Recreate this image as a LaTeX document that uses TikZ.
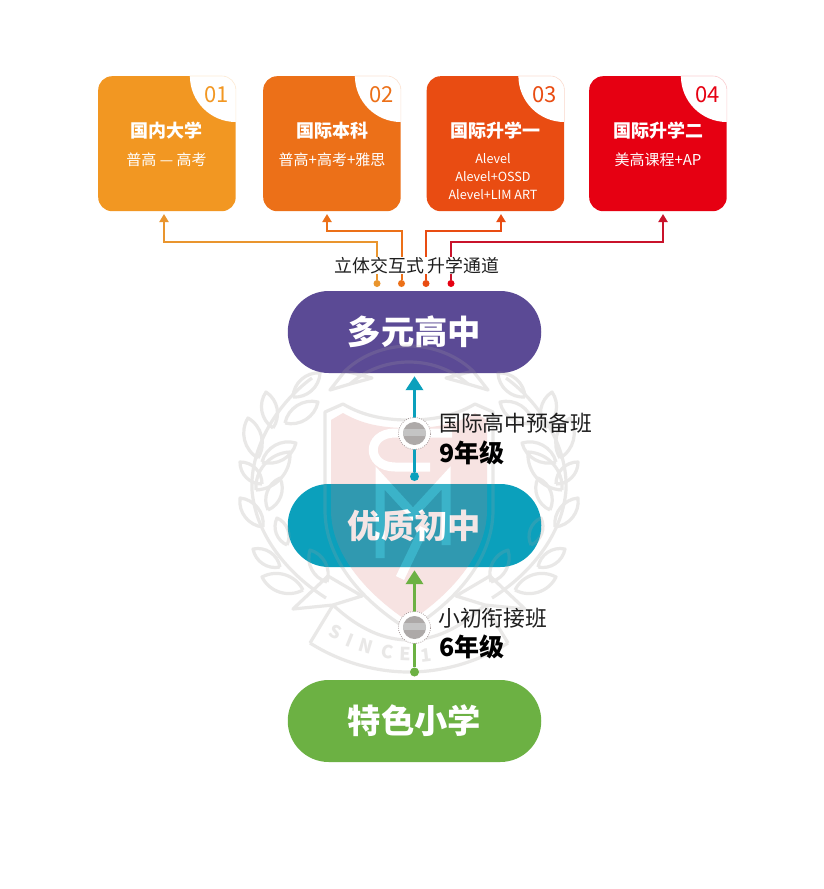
\documentclass[tikz,border=0pt]{standalone}
\usepackage{fontspec}
\setmainfont{Noto Sans CJK SC}
\usetikzlibrary{arrows.meta,calc}
\definecolor{cA}{HTML}{F29722}
\definecolor{cB}{HTML}{EC7018}
\definecolor{cC}{HTML}{E94C12}
\definecolor{cD}{HTML}{E60012}
\definecolor{lnA}{HTML}{E9952E}
\definecolor{lnD}{HTML}{C9132B}
\definecolor{pPurple}{HTML}{5B4A95}
\definecolor{pTeal}{HTML}{0BA0BC}
\definecolor{pGreen}{HTML}{6CB143}
\definecolor{wmGray}{HTML}{E9E8E7}
\definecolor{wmPink}{HTML}{F7E3E2}
\definecolor{ink}{HTML}{1E1E1E}
\definecolor{dotGray}{HTML}{ADA9A8}
\definecolor{bandGray}{HTML}{C4C4C4}
\definecolor{ringGray}{HTML}{9A8C8C}
\tikzset{
  pill/.style={rounded corners=41pt,minimum width=253.5pt,minimum height=82pt,inner sep=0pt,text=white,font=\fontsize{33.3}{34}\selectfont\bfseries},
  card/.style={rounded corners=14pt,minimum width=137.5pt,minimum height=135pt,inner sep=0pt},
  cardtitle/.style={text=white,inner sep=0pt,font=\fontsize{18}{18}\selectfont\bfseries},
  cardsub/.style={text=white,inner sep=0pt,align=center,font=\fontsize{15}{18}\selectfont},
  cardnum/.style={inner sep=0pt,font=\fontsize{22}{22}\selectfont},
  elbow/.style={line width=2pt,-{Triangle[length=8pt,width=9pt]},shorten >=3pt},
  portdot/.style={circle,minimum size=7pt,inner sep=0pt},
  riser/.style={line width=3.6pt,-{Triangle[length=14pt,width=17pt]},shorten >=3pt},
  startdot/.style={circle,minimum size=9pt,inner sep=0pt},
  ring/.style={circle,minimum size=32pt,inner sep=0pt,fill=white,draw=ringGray,dash pattern=on .8pt off 1.4pt,line width=.7pt},
  lbl/.style={anchor=west,text=ink,inner sep=0pt,font=\fontsize{21.8}{22}\selectfont},
  lblb/.style={anchor=west,text=black,inner sep=0pt,font=\fontsize{25}{25}\selectfont\bfseries},
  wl/.style={draw=wmGray,line width=3.2pt,line join=round},
  wmletter/.style={text=wmGray,inner sep=0pt,font=\fontsize{18}{18}\selectfont\bfseries},
}
% one pointed leaf between two points
\newcommand\wleaf[4]{\draw[wl] (#1,#2) to[bend left=46] (#3,#4) to[bend left=46] (#1,#2);}
\newcommand\halfwreath{%
  \draw[wl] (326,598) .. controls (282,570) and (255,530) .. (252,490)
            .. controls (250,450) and (275,405) .. (312,378);
  \wleaf{293}{397}{320}{373}
  \wleaf{273}{428}{266}{392}
  \wleaf{285}{423}{318}{402}
  \wleaf{258}{458}{248}{418}
  \wleaf{262}{462}{296}{443}
  \wleaf{262}{484}{240}{462}
  \wleaf{256}{490}{290}{452}
  \wleaf{263}{527}{240}{498}
  \wleaf{268}{510}{280}{478}
  \wleaf{287}{545}{277}{518}
  \wleaf{280}{567}{253}{549}
  \wleaf{303}{590}{262}{577}
  \wleaf{327}{582}{310}{550}
  % ribbon tails
  \draw[wl] (293,609) -- (328,576) -- (362,596) -- (333,605) -- cycle;
  \draw[wl] (333,605) -- (310,643);
  \draw[wl] (330,390) -- (345,371) -- (372,378) -- (350,384) -- cycle;
}
\newcommand\watermark{%
  % shield
  \fill[wmPink] (331,420) -- (343,413) .. controls (365,426) and (388,428) .. (409,428)
     .. controls (430,428) and (453,426) .. (475,413) -- (487,420) -- (487,510)
     .. controls (487,555) and (450,595) .. (409,622)
     .. controls (368,595) and (331,555) .. (331,510) -- cycle;
  \draw[wl] (325,412) -- (343,404) .. controls (365,417) and (388,420) .. (409,420)
     .. controls (430,420) and (453,417) .. (475,404) -- (493,412) -- (493,510)
     .. controls (493,560) and (455,602) .. (409,630)
     .. controls (363,602) and (325,560) .. (325,510) -- cycle;
  % monogram
  \draw[white,line width=9pt,line join=miter] (452,433) -- (395,433)
     .. controls (366,433) and (366,467) .. (395,467) -- (430,467);
  \draw[white,line width=9pt,line join=miter] (380,558) -- (380,478) -- (413,514) -- (446,478) -- (446,545);
  \draw[white,line width=9pt] (424,528) -- (400,578);
  % laurel
  \halfwreath
  \begin{scope}[xshift=818pt,xscale=-1]\halfwreath\end{scope}
  % ribbons
  \draw[wl] (333,605) .. controls (360,630) and (385,640) .. (409,640)
     .. controls (433,640) and (458,630) .. (485,605);
  \draw[wl] (310,643) .. controls (340,662) and (375,672) .. (409,672)
     .. controls (443,672) and (478,662) .. (508,643);
  \draw[wl] (345,371) .. controls (365,352) and (390,346) .. (409,346)
     .. controls (428,346) and (453,352) .. (473,371);
  \draw[wl] (350,384) .. controls (368,368) and (390,362) .. (409,362)
     .. controls (428,362) and (450,368) .. (468,384);
}
\newcommand\cardbox[4]{% name, left x, colour, number
  \node[card,fill=#3,anchor=north west] (#1) at (#2,76) {};
  \begin{scope}
    \clip[rounded corners=14pt] (#1.south west) rectangle (#1.north east);
    \fill[white] (#1.north east) circle[radius=46pt];
  \end{scope}
  \draw[#3!18,line width=.6pt,rounded corners=14pt] ($(#1.north east)+(-46pt,0)$) -- (#1.north east) -- ($(#1.north east)+(0,-46pt)$);
  \node[cardnum,text=#3] (#1n) at ($(#1.north east)+(-19.5pt,-19pt)$) {#4};
}
\begin{document}
\begin{tikzpicture}[x=1pt,y=-1pt]
\useasboundingbox (0,0) rectangle (824,889);
\fill[white] (0,0) rectangle (824,889);
\watermark
\foreach \t/\x/\y/\r [count=\i] in {S/336/632/-26,I/350/640/-22,N/366/646/-17,C/387/652/-9,E/405/654/-2,1/426/655/7}{
  \node[wmletter,rotate=\r] (wm\i) at (\x,\y) {\t};
}
% cards
\cardbox{c1}{98}{cA}{01}
\cardbox{c2}{263}{cB}{02}
\cardbox{c3}{426.5}{cC}{03}
\cardbox{c4}{589}{cD}{04}
\node[cardtitle] (c1t) at (166.5,130.5) {国内大学};
\node[cardsub]   (c1s) at (166.5,160) {普高 — 高考};
\node[cardtitle] (c2t) at (332,130.5) {国际本科};
\node[cardsub]   (c2s) at (332,160) {普高+高考+雅思};
\node[cardtitle] (c3t) at (495,130.5) {国际升学一};
\node[cardsub,font=\fontsize{12.6}{18}\selectfont] (c3s) at (493,177) {Alevel\\Alevel+OSSD\\Alevel+LIM ART};
\node[cardtitle] (c4t) at (658,130.5) {国际升学二};
\node[cardsub]   (c4s) at (658,160) {美高课程+AP};
% ports
\node[portdot,fill=lnA] (d1) at (377,283.5) {};
\node[portdot,fill=cB] (d2) at (401.5,283.5) {};
\node[portdot,fill=cC] (d3) at (426,283.5) {};
\node[portdot,fill=cD] (d4) at (451,283.5) {};
\coordinate (j1) at (377,242);
\coordinate (j2) at (401.5,231);
\coordinate (j3) at (426,231);
\coordinate (j4) at (451,242);
\coordinate (a1) at (164,211);
\coordinate (a2) at (327,211);
\coordinate (a3) at (501,211);
\coordinate (a4) at (663,211);
\draw[elbow,draw=lnA] (d1) -- (j1) -| (a1);
\draw[elbow,draw=cB] (d2) -- (j2) -| (a2);
\draw[elbow,draw=cC] (d3) -- (j3) -| (a3);
\draw[elbow,draw=lnD] (d4) -- (j4) -| (a4);
\node[fill=white,inner xsep=0pt,inner ysep=0pt,text=ink,font=\fontsize{17.9}{18}\selectfont] (chan) at (417,265.5) {立体交互式 升学通道};
% pills
\node[pill,fill=pPurple] (p3) at (414.5,332) {多元高中};
\node[pill,fill=pTeal,minimum height=83pt] (p2) at (414.5,525.5) {优质初中};
\node[pill,fill=pGreen]  (p1) at (414.5,721) {特色小学};
\begin{scope}[transparency group,opacity=.2]
  \clip[rounded corners=41pt] (p3.south west) rectangle (p3.north east) (p2.south west) rectangle (p2.north east);
  \definecolor{wmPink}{HTML}{C88080}
  \definecolor{wmGray}{HTML}{A8A0A0}
  \watermark
\end{scope}
% risers
\node[startdot,fill=pTeal] (s2) at (414.5,476.5) {};
\node[startdot,fill=pGreen] (s1) at (414.5,672) {};
\draw[riser,draw=pTeal] (s2) -- (p3.south);
\draw[riser,draw=pGreen] (s1) -- (p2.south);
\foreach \n/\y in {r2/433.5,r1/627.5}{
  \node[ring] (\n) at (414.5,\y) {};
  \fill[dotGray] (\n) circle[radius=11.5pt];
  \begin{scope}
    \clip (\n) circle[radius=11.5pt];
    \fill[bandGray] ($(\n)+(-12pt,-2pt)$) rectangle ($(\n)+(12pt,5pt)$);
  \end{scope}
}
% labels
\node[lbl] (l2a) at (439,423) {国际高中预备班};
\node[lblb] (l2b) at (439,453) {9年级};
\node[lbl] (l1a) at (438,618) {小初衔接班};
\node[lblb] (l1b) at (439,647) {6年级};
\end{tikzpicture}
\end{document}
